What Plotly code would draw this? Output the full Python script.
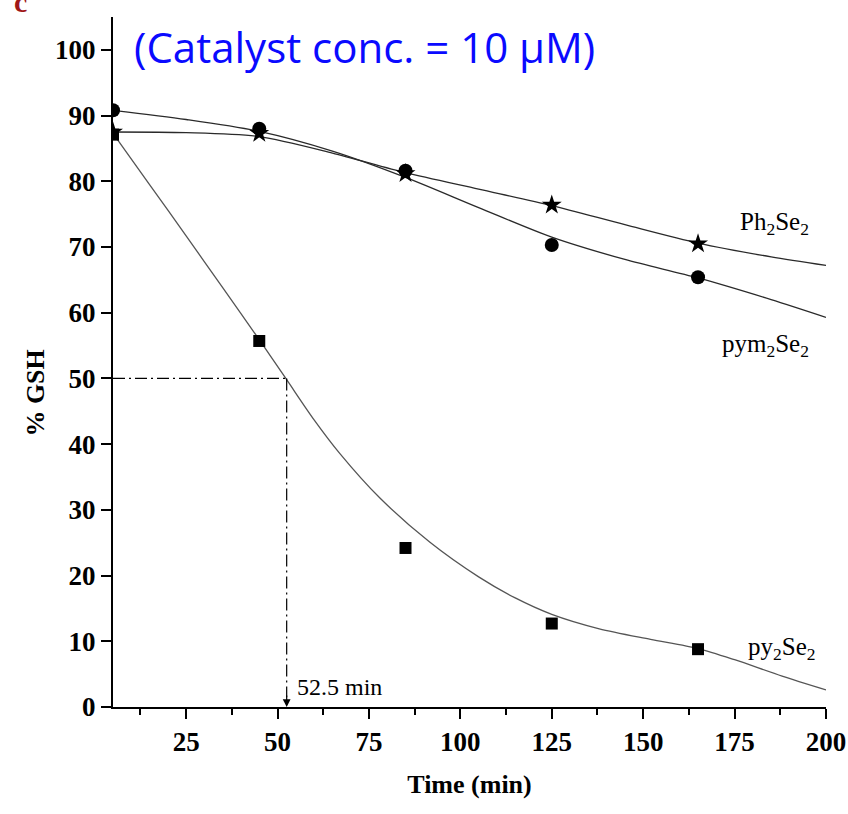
import plotly.graph_objects as go

# Measured points (% GSH remaining vs. time)
time_pts = [5, 45, 85, 125, 165]
ph2se2_pts = [87.5, 87.3, 81.2, 76.4, 70.5]
pym2se2_pts = [90.8, 88.0, 81.6, 70.3, 65.4]
py2se2_pts = [87.1, 55.7, 24.2, 12.7, 8.8]

# Fitted curves, sampled along the time axis
ph2se2_fit_t = [5, 25, 45, 65, 85, 105, 125, 145, 165, 185, 200]
ph2se2_fit = [87.5, 87.4, 86.8, 84.3, 81.3, 78.8, 76.3, 73.4, 70.6, 68.5, 67.2]
pym2se2_fit_t = [5, 25, 45, 65, 85, 105, 125, 145, 165, 185, 200]
pym2se2_fit = [90.8, 89.4, 87.6, 84.6, 80.6, 76.0, 71.5, 68.1, 65.3, 62.0, 59.3]
py2se2_fit_t = [5, 15, 25, 35, 45, 52.5, 60, 67, 78, 91.6, 105, 115, 125, 138, 152, 165, 175, 188, 200]
py2se2_fit = [87.3, 79.5, 71.7, 63.8, 55.9, 49.8, 43.7, 38.6, 31.8, 25.1, 19.8, 16.6, 14.1, 11.9, 10.3, 8.9, 7.2, 4.7, 2.6]

# Half-life marker
half_time = 52.5
half_level = 50

x_ticks = [25, 50, 75, 100, 125, 150, 175, 200]
y_ticks = [0, 10, 20, 30, 40, 50, 60, 70, 80, 90, 100]

serif = "Liberation Serif, Times New Roman, serif"
fig = go.Figure()

for t, v, col in [(ph2se2_fit_t, ph2se2_fit, "#2a2a2a"),
                  (pym2se2_fit_t, pym2se2_fit, "#2a2a2a"),
                  (py2se2_fit_t, py2se2_fit, "#555555")]:
    fig.add_trace(go.Scatter(x=t, y=v, mode="lines",
                             line=dict(color=col, width=1.3, shape="spline", smoothing=0.8),
                             hoverinfo="skip", showlegend=False))

fig.add_trace(go.Scatter(x=time_pts, y=ph2se2_pts, mode="markers", name="Ph2Se2",
                         marker=dict(symbol="star", size=15, color="black"), showlegend=False))
fig.add_trace(go.Scatter(x=time_pts, y=pym2se2_pts, mode="markers", name="pym2Se2",
                         marker=dict(symbol="circle", size=14, color="black"), showlegend=False))
fig.add_trace(go.Scatter(x=time_pts, y=py2se2_pts, mode="markers", name="py2Se2",
                         marker=dict(symbol="square", size=12, color="black"), showlegend=False))

# Dash-dot guides to the half-life
dd = "12px,4px,2px,4px"
fig.add_shape(type="line", x0=5, x1=half_time, y0=half_level, y1=half_level,
              line=dict(color="black", width=1.2, dash=dd))
fig.add_shape(type="line", x0=half_time, x1=half_time, y0=half_level, y1=1.5,
              line=dict(color="black", width=1.2, dash=dd))
fig.add_annotation(x=half_time, y=0, ax=0, ay=-13, showarrow=True, arrowhead=2,
                   arrowsize=1.3, arrowwidth=1.2, arrowcolor="black", text="")
fig.add_annotation(x=half_time + 2.3, y=3.0, text=f"{half_time} min", showarrow=False,
                   xanchor="left", yanchor="middle",
                   font=dict(family=serif, size=24, color="black"))

label_font = dict(family=serif, size=25, color="black")
fig.add_annotation(x=186, y=73.6, text="Ph<sub>2</sub>Se<sub>2</sub>", showarrow=False,
                   xanchor="center", yanchor="middle", font=label_font)
fig.add_annotation(x=183.5, y=55.0, text="pym<sub>2</sub>Se<sub>2</sub>", showarrow=False,
                   xanchor="center", yanchor="middle", font=label_font)
fig.add_annotation(x=188, y=8.9, text="py<sub>2</sub>Se<sub>2</sub>", showarrow=False,
                   xanchor="center", yanchor="middle", font=label_font)

fig.add_annotation(xref="paper", yref="paper", x=0.026, y=0.957,
                   text="(Catalyst conc. = 10 µM)", showarrow=False,
                   xanchor="left", yanchor="middle",
                   font=dict(family="Open Sans, Lato, sans-serif", size=42, color="#0a0aff"))

# Panel letter sitting at the very top-left edge
fig.add_annotation(xref="paper", yref="paper", x=-0.13, y=1.0, yshift=-3,
                   text="<b>c</b>", showarrow=False, xanchor="center", yanchor="bottom",
                   font=dict(family=serif, size=30, color="#a01818"))

fig.add_annotation(xref="paper", yref="paper", x=-0.11, y=0.455, text="<b>% GSH</b>",
                   showarrow=False, textangle=-90, xanchor="center", yanchor="middle",
                   font=dict(family=serif, size=26, color="black"))

tick_font = dict(family=serif, size=27, color="black", weight="bold")
fig.update_xaxes(range=[5, 200], tickvals=x_ticks, ticks="outside", ticklen=10, tickwidth=2,
                 tickcolor="black", showline=True, linecolor="black", linewidth=2,
                 showgrid=False, zeroline=False, automargin=False, tickfont=tick_font,
                 minor=dict(tick0=0, dtick=12.5, ticks="outside", ticklen=6, tickwidth=2,
                            tickcolor="black", showgrid=False),
                 title=dict(text="<b>Time (min)</b>", standoff=18,
                            font=dict(family=serif, size=26, color="black")))
fig.update_yaxes(range=[0, 105], tickvals=y_ticks, ticks="outside", ticklen=10, tickwidth=2,
                 tickcolor="black", showline=True, linecolor="black", linewidth=2,
                 showgrid=False, zeroline=False, automargin=False, tickfont=tick_font)

fig.update_layout(width=848, height=814, margin=dict(l=113, r=22, t=17, b=107),
                  plot_bgcolor="white", paper_bgcolor="white",
                  font=dict(family=serif))

fig.write_html("out.html")
